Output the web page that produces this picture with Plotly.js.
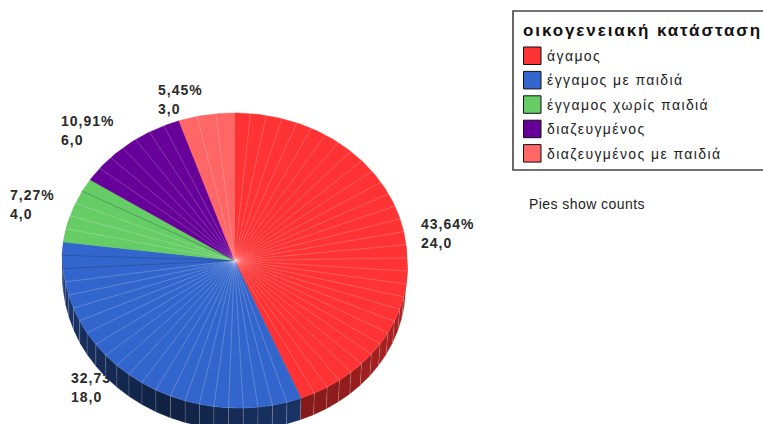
<!DOCTYPE html>
<html><head><meta charset="utf-8">
<script src="https://cdn.plot.ly/plotly-3.0.1.min.js"></script>
<style>html,body{margin:0;padding:0;background:#fff}#c{width:763px;height:424px}</style>
</head><body><div id="c"></div>
<script>
const categories=['άγαμος','έγγαμος με παιδιά','έγγαμος χωρίς παιδιά','διαζευγμένος','διαζευγμένος με παιδιά'];
const counts=[24,18,4,6,3];
const percentLabels=['43,64%','32,73%','7,27%','10,91%','5,45%'];
const countLabels=['24,0','18,0','4,0','6,0','3,0'];
const colors=['#ff3333','#3366cc','#66cc66','#660099','#ff6666'];
const legendTitle='οικογενειακή κατάσταση';
const note='Pies show counts';

const W=763,H=424,CX=234.5,CY=260.5,RX=172.5,RY=147.5,DEPTH=22,STEP=5;
const labelPos=[[421,235],[71,389],[10,206],[61,132],[158,101]];
const px=x=>(x-CX)/RX, py=y=>(CY-y)/RY;
const rgb=h=>[1,3,5].map(i=>parseInt(h.substr(i,2),16));
const shade=(h,f)=>'rgb('+rgb(h).map(v=>Math.round(v*f)).join(',')+')';
// projection of a rim angle (degrees clockwise from the top) onto the tilted disc
const pt=(a,dy)=>{
  const b=a>200?a+2.3*Math.sin((a-200)/160*Math.PI):a+2.9*Math.sin(a/200*Math.PI);
  const r=b*Math.PI/180,v=Math.cos(r),s=Math.sin(r);
  const skew=v<0?4.5*Math.pow(-v,0.6)/RX:0;
  const inset=dy?2*Math.max(0,s)/RX:0;
  return [s+skew-inset,v-(dy||0)/RY];
};
const total=counts.reduce((a,b)=>a+b,0);

const traces=[];
// labels first, so the pie covers them where they overlap
traces.push({type:'scatter',mode:'text',x:labelPos.map(p=>px(p[0])),y:labelPos.map(p=>py(p[1])),
  text:percentLabels.map((p,i)=>p+'<br>'+countLabels[i]),textposition:'middle right',
  textfont:{family:'Liberation Sans',size:14,color:'#2a2a2a',weight:700},hoverinfo:'skip',showlegend:false});

let start=0;const slices=[];
counts.forEach((c,i)=>{
  const sweep=c/total*360,n=Math.max(1,Math.floor(sweep/STEP)),angles=[];
  for(let k=0;k<=n;k++)angles.push(start+sweep*k/n);
  slices.push({angles,color:colors[i],name:categories[i]});
  start+=sweep;
});
// side wall
slices.forEach(s=>{
  for(let k=0;k<s.angles.length-1;k++){
    const a0=s.angles[k],a1=s.angles[k+1],m=(a0+a1)/2;
    if(m<80||m>285)continue;
    const f=0.32+0.33*Math.min(1,Math.abs(m-205)/85);
    const xs=[],ys=[];
    for(let j=0;j<=4;j++){const p=pt(a0+(a1-a0)*j/4);xs.push(p[0]);ys.push(p[1]);}
    for(let j=4;j>=0;j--){const p=pt(a0+(a1-a0)*j/4,DEPTH);xs.push(p[0]);ys.push(p[1]);}
    const p0=pt(a0);xs.push(p0[0]);ys.push(p0[1]);
    traces.push({type:'scatter',mode:'lines',x:xs,y:ys,fill:'toself',fillcolor:shade(s.color,f),
      line:{color:'rgba(255,255,255,0.16)',width:0.7},hoverinfo:'skip',showlegend:false});
  }
});
// top face
slices.forEach(s=>{
  const xs=[0],ys=[0];
  const a0=s.angles[0],a1=s.angles[s.angles.length-1],n=Math.ceil(a1-a0);
  for(let j=0;j<=n;j++){const p=pt(a0+(a1-a0)*j/n);xs.push(p[0]);ys.push(p[1]);}
  xs.push(0);ys.push(0);
  traces.push({type:'scatter',mode:'lines',x:xs,y:ys,fill:'toself',fillcolor:s.color,name:s.name,
    line:{color:s.color,width:0.5},hoverinfo:'name',showlegend:false});
  const lx=[],ly=[],dx=[],dy=[];
  s.angles.slice(1,-1).forEach(a=>{
    const p=pt(a),dark=(a>262&&a<272)||(a>293&&a<298);
    (dark?dx:lx).push(0,p[0],null);(dark?dy:ly).push(0,p[1],null);
  });
  traces.push({type:'scatter',mode:'lines',x:lx,y:ly,line:{color:'rgba(255,255,255,0.3)',width:0.7},hoverinfo:'skip',showlegend:false});
  if(dx.length)traces.push({type:'scatter',mode:'lines',x:dx,y:dy,line:{color:'rgba(30,40,70,0.4)',width:0.7},hoverinfo:'skip',showlegend:false});
});

const pxX=x=>x/W, pxY=y=>1-y/H;
const shapes=[{type:'rect',xref:'paper',yref:'paper',x0:pxX(513),x1:pxX(764),y0:pxY(11),y1:pxY(170),
  line:{color:'#444',width:1.6},fillcolor:'#fff',layer:'below'}];
const ann=[{xref:'paper',yref:'paper',x:pxX(521),y:pxY(31),xanchor:'left',yanchor:'middle',showarrow:false,
  text:'<b>'+legendTitle+'</b>',font:{family:'Liberation Sans',size:17,color:'#111'},align:'left'}];
categories.forEach((c,i)=>{
  const yc=56+i*24.4;
  shapes.push({type:'rect',xref:'paper',yref:'paper',x0:pxX(523.5),x1:pxX(541),y0:pxY(yc-9),y1:pxY(yc+8.5),
    line:{color:'#111',width:1},fillcolor:colors[i]});
  ann.push({xref:'paper',yref:'paper',x:pxX(545),y:pxY(yc),xanchor:'left',yanchor:'middle',showarrow:false,
    text:c,font:{family:'Liberation Sans',size:14,color:'#222'},align:'left'});
});
ann.push({xref:'paper',yref:'paper',x:pxX(527),y:pxY(204),xanchor:'left',yanchor:'middle',showarrow:false,
  text:note,font:{family:'Liberation Sans',size:14,color:'#222'},align:'left'});

const layout={width:W,height:H,margin:{l:0,r:0,t:0,b:0},paper_bgcolor:'#fff',plot_bgcolor:'#fff',showlegend:false,
  xaxis:{visible:false,range:[px(0),px(W)],fixedrange:true},
  yaxis:{visible:false,range:[py(H),py(0)],fixedrange:true},
  shapes:shapes,annotations:ann};
Plotly.newPlot('c',traces,layout,{displayModeBar:false,staticPlot:true}).then(gd=>{
  gd.querySelectorAll('.textpoint text').forEach(t=>t.style.letterSpacing='1px');
  const a=gd.querySelectorAll('.annotation-text');
  a.forEach((t,i)=>{t.style.letterSpacing=i===0?'1.9px':(i===a.length-1?'0.44px':'1.4px');});
});
</script></body></html>
